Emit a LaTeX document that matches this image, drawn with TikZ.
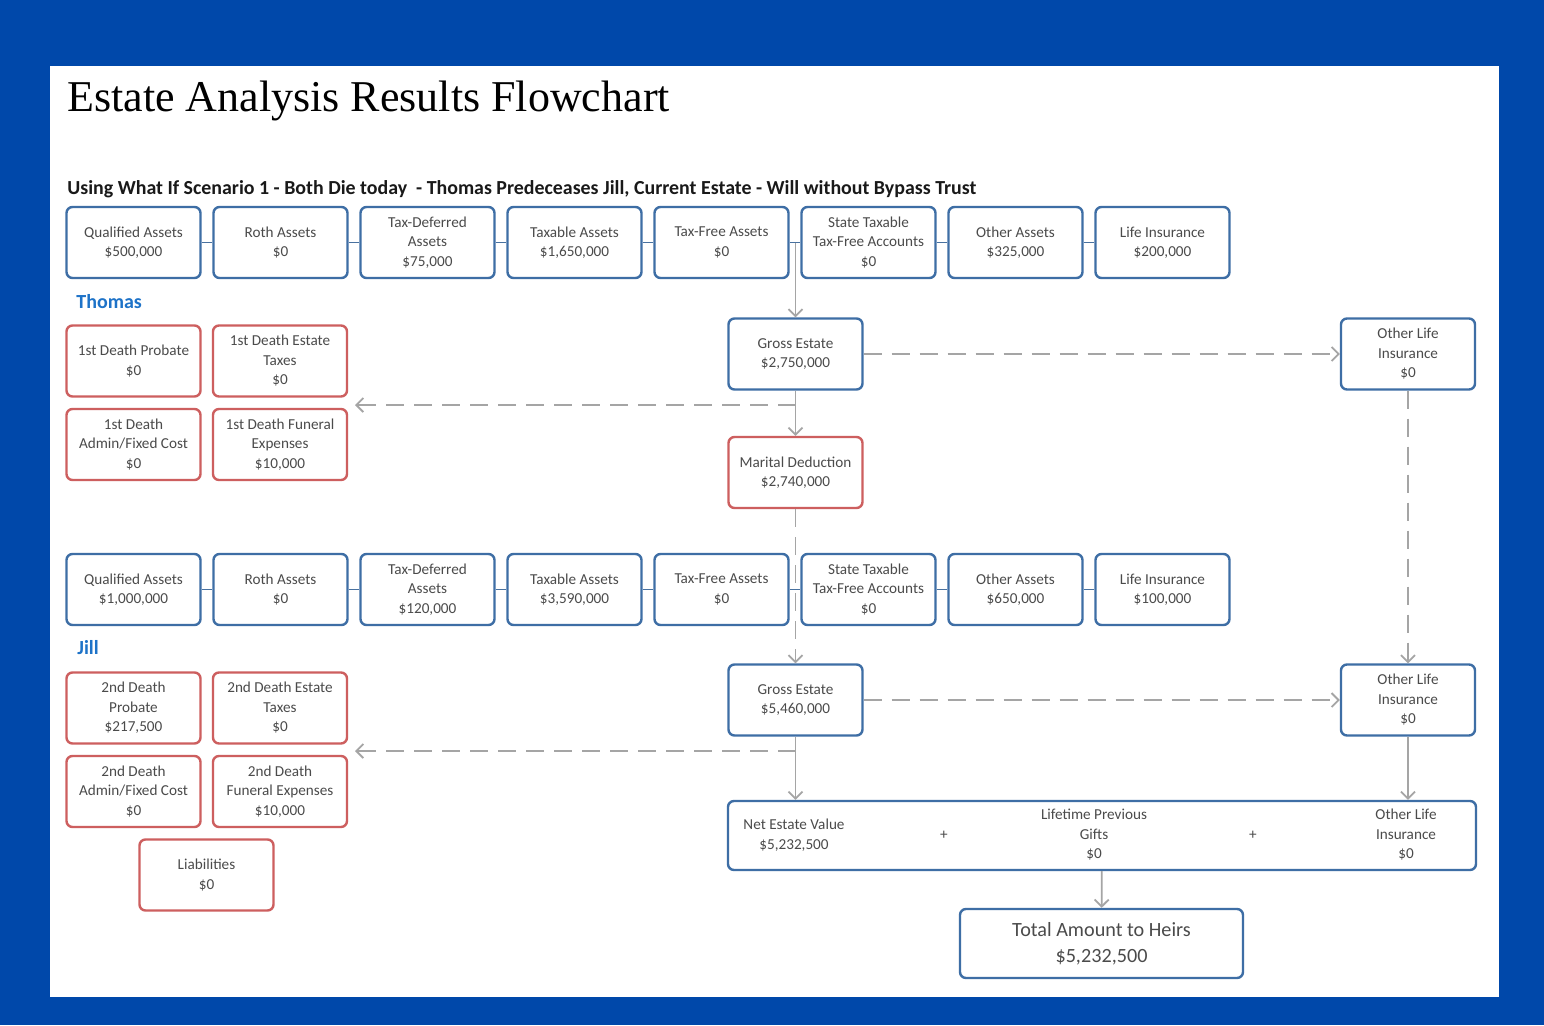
\documentclass[tikz,border=0pt]{standalone}
\usepackage{fontspec}
\setmainfont{Carlito}
\newfontfamily\titlefont{Liberation Serif}
\usetikzlibrary{arrows.meta}

\definecolor{pageblue}{RGB}{0,72,170}
\definecolor{boxblue}{RGB}{62,110,165}
\definecolor{boxred}{RGB}{205,95,95}
\definecolor{linkgray}{RGB}{165,165,165}
\definecolor{txtgray}{RGB}{75,75,75}
\definecolor{nameblue}{RGB}{30,115,200}

\tikzset{
  box/.style={draw=boxblue, line width=1.2pt, rounded corners=3pt, fill=white,
    minimum width=67pt, minimum height=35.5pt, inner sep=1pt, align=center,
    text=txtgray, font=\fontsize{7.6}{9.75}\selectfont},
  costbox/.style={box, draw=boxred},
  lbl/.style={align=center, text=txtgray, inner sep=0pt, font=\fontsize{7.6}{9.75}\selectfont},
  link/.style={draw=boxblue!85!gray, line width=0.9pt},
  flow/.style={draw=linkgray, line width=0.9pt, -{Straight Barb[length=3.5pt,width=7pt]}},
  dashflow/.style={flow, dash pattern=on 9pt off 5pt},
  person/.style={anchor=west, inner sep=0pt, text=nameblue, font=\bfseries\fontsize{10}{12}\selectfont},
}

\begin{document}
\begin{tikzpicture}[x=0.5pt,y=-0.5pt]
  % frame
  \fill[pageblue] (0,0) rectangle (1544,1025);
  \fill[white] (50,66) rectangle (1499,997);
  \useasboundingbox (0,0) rectangle (1544,1025);

  \node[anchor=base west, inner sep=0pt, font=\titlefont\fontsize{22}{26}\selectfont] (title) at (67,111)
    {Estate Analysis Results Flowchart};
  \node[anchor=base west, inner sep=0pt, text=black!90, font=\bfseries\fontsize{9.95}{12}\selectfont] (scen) at (67,194)
    {Using What If Scenario 1 - Both Die today \ - Thomas Predeceases Jill, Current Estate - Will without Bypass Trust};

  % Thomas
  \foreach \i/\txt in {1/{Qualified Assets\\\$500,000}, 2/{Roth Assets\\\$0}, 3/{Tax-Deferred\\Assets\\\$75,000},
      4/{Taxable Assets\\\$1,650,000}, 5/{Tax-Free Assets\\\$0}, 6/{State Taxable\\Tax-Free Accounts\\\$0},
      7/{Other Assets\\\$325,000}, 8/{Life Insurance\\\$200,000}}
    \node[box] (t\i) at ({133.5+147*(\i-1)},242.5) {\txt};
  \foreach \i in {1,...,7}{
    \pgfmathtruncatemacro\j{\i+1}
    \draw[link] (t\i.east) -- (t\j.west);
  }
  \node[person] (thomas) at (76,302) {Thomas};
  \node[costbox] (tprob) at (133.5,361) {1st Death Probate\\\$0};
  \node[costbox] (ttax) at (280,361) {1st Death Estate\\Taxes\\\$0};
  \node[costbox] (tadmin) at (133.5,444.5) {1st Death\\Admin/Fixed Cost\\\$0};
  \node[costbox] (tfun) at (280,444.5) {1st Death Funeral\\Expenses\\\$10,000};
  \node[box] (gross1) at (795.5,354) {Gross Estate\\\$2,750,000};
  \node[costbox] (marital) at (795.5,472.5) {Marital Deduction\\\$2,740,000};
  \node[box] (olife1) at (1408,354) {Other Life\\Insurance\\\$0};

  % Jill
  \foreach \i/\txt in {1/{Qualified Assets\\\$1,000,000}, 2/{Roth Assets\\\$0}, 3/{Tax-Deferred\\Assets\\\$120,000},
      4/{Taxable Assets\\\$3,590,000}, 5/{Tax-Free Assets\\\$0}, 6/{State Taxable\\Tax-Free Accounts\\\$0},
      7/{Other Assets\\\$650,000}, 8/{Life Insurance\\\$100,000}}
    \node[box] (j\i) at ({133.5+147*(\i-1)},589.5) {\txt};
  \foreach \i in {1,...,7}{
    \pgfmathtruncatemacro\j{\i+1}
    \draw[link] (j\i.east) -- (j\j.west);
  }
  \node[person] (jill) at (77,648) {Jill};
  \node[costbox] (jprob) at (133.5,708) {2nd Death\\Probate\\\$217,500};
  \node[costbox] (jtax) at (280,708) {2nd Death Estate\\Taxes\\\$0};
  \node[costbox] (jadmin) at (133.5,791.5) {2nd Death\\Admin/Fixed Cost\\\$0};
  \node[costbox] (jfun) at (280,791.5) {2nd Death\\Funeral Expenses\\\$10,000};
  \node[costbox] (liab) at (206.5,875) {Liabilities\\\$0};
  \node[box] (gross2) at (795.5,700) {Gross Estate\\\$5,460,000};
  \node[box] (olife2) at (1408,700) {Other Life\\Insurance\\\$0};

  % totals
  \node[box, minimum width=374pt, minimum height=34.5pt] (net) at (1102,835.5) {};
  \node[lbl] (netval) at (794,835) {Net Estate Value\\\$5,232,500};
  \node[lbl] (plus1) at (944,835) {+};
  \node[lbl] (gifts) at (1094,835) {Lifetime Previous\\Gifts\\\$0};
  \node[lbl] (plus2) at (1253,835) {+};
  \node[lbl] (olife3) at (1406,835) {Other Life\\Insurance\\\$0};
  \node[box, minimum width=141.5pt, minimum height=34.5pt, font=\fontsize{10.1}{13}\selectfont] (total) at (1101.5,943.5)
    {Total Amount to Heirs\\\$5,232,500};

  % connectors
  \coordinate (tcost) at (355,405);
  \coordinate (jcost) at (355,751);
  \draw[flow] (gross1 |- t5.east) -- (gross1.north);
  \draw[flow] (gross1) -- (marital);
  \draw[dashflow] (gross1 |- tcost) -- (tcost);
  \draw[dashflow] (gross1) -- (olife1);
  \draw[dashflow] (marital) -- (gross2);
  \draw[dashflow] (olife1) -- (olife2);
  \draw[flow] (gross2) -- (gross2 |- net.north);
  \draw[dashflow] (gross2 |- jcost) -- (jcost);
  \draw[dashflow] (gross2) -- (olife2);
  \draw[flow] (olife2) -- (olife2 |- net.north);
  \draw[flow] (net) -- (total);
\end{tikzpicture}
\end{document}
